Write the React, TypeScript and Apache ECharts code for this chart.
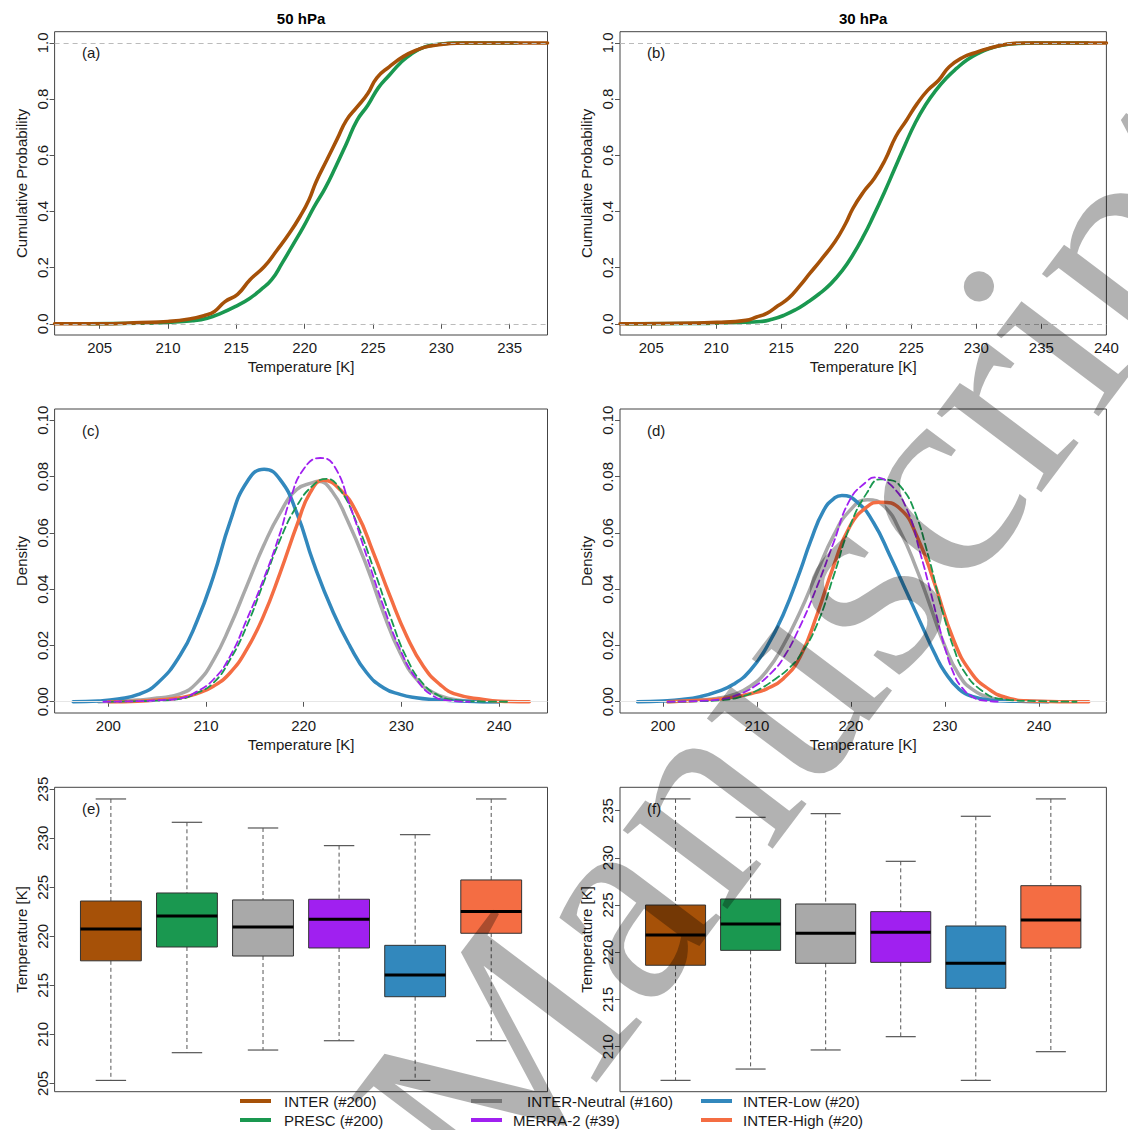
import React, { useEffect, useRef } from "react";
import * as echarts from "echarts";

// ---------------- DATA ----------------
const SERIES_NAMES = ["INTER (#200)", "PRESC (#200)", "INTER-Neutral (#160)", "MERRA-2 (#39)", "INTER-Low (#20)", "INTER-High (#20)"];
const COLORS = ["#A65108", "#1A9850", "#A9A9A9", "#A020F0", "#3288BD", "#F46D43"];
const TITLES = ["50 hPa", "30 hPa"];
const PANEL_LABELS = ["(a)", "(b)", "(c)", "(d)", "(e)", "(f)"];

const CDF_TICKS_A = [205, 210, 215, 220, 225, 230, 235];
const CDF_TICKS_B = [205, 210, 215, 220, 225, 230, 235, 240];
const CDF_Y_TICKS = [0, 0.2, 0.4, 0.6, 0.8, 1.0];
const DENS_X_TICKS = [200, 210, 220, 230, 240];
const DENS_Y_TICKS = [0, 0.02, 0.04, 0.06, 0.08, 0.1];
const BOX_Y_TICKS_E = [205, 210, 215, 220, 225, 230, 235];
const BOX_Y_TICKS_F = [210, 215, 220, 225, 230, 235];

// (a) 50 hPa empirical CDF
const A_INTER_T = [201.7, 205, 208, 210, 211.56, 212.7, 213.4, 214.17, 215.09, 216.0, 217.05, 217.96, 218.88, 219.66, 220.31, 220.84, 221.62, 222.4, 223.06, 223.84, 224.62, 225.28, 226.19, 227.24, 228.28, 229.07, 230.63, 231.68, 237.77];
const A_INTER_P = [0, 0, 0.004, 0.008, 0.017, 0.03, 0.044, 0.079, 0.105, 0.157, 0.204, 0.261, 0.322, 0.382, 0.441, 0.506, 0.583, 0.66, 0.725, 0.772, 0.82, 0.876, 0.915, 0.952, 0.976, 0.988, 0.998, 1.0, 1.0];
const A_PRESC_T = [204.2, 208, 210, 211.8, 212.87, 213.9, 214.96, 216.0, 216.78, 217.57, 218.35, 219.14, 219.92, 220.7, 221.49, 222.27, 223.06, 223.84, 224.62, 225.4, 226.19, 226.97, 227.76, 228.8, 229.85, 230.9, 235.5];
const A_PRESC_P = [0, 0.002, 0.005, 0.011, 0.02, 0.038, 0.062, 0.091, 0.121, 0.156, 0.216, 0.281, 0.346, 0.417, 0.482, 0.559, 0.642, 0.725, 0.778, 0.841, 0.885, 0.927, 0.959, 0.986, 0.995, 1.0, 1.0];

// (b) 30 hPa empirical CDF
const B_INTER_T = [202.6, 206, 210.08, 212.27, 213.1, 213.92, 214.74, 215.57, 216.39, 217.21, 218.04, 219.14, 219.96, 220.51, 221.33, 222.16, 222.98, 223.8, 224.63, 225.45, 226.27, 227.1, 227.92, 229.02, 229.84, 230.94, 232.31, 233.69, 240];
const B_INTER_P = [0, 0.001, 0.005, 0.012, 0.024, 0.038, 0.064, 0.091, 0.133, 0.18, 0.227, 0.293, 0.358, 0.411, 0.47, 0.518, 0.583, 0.666, 0.725, 0.784, 0.832, 0.867, 0.915, 0.95, 0.964, 0.98, 0.995, 1.0, 1.0];
const B_PRESC_T = [203.1, 208, 211.7, 213.4, 214.3, 215.2, 216.1, 217.0, 217.9, 218.8, 219.7, 220.5, 221.3, 222.1, 222.9, 223.7, 224.5, 225.3, 226.1, 226.9, 227.7, 228.5, 229.3, 230.1, 231.0, 232.0, 233.2, 234.5, 238.6];
const B_PRESC_P = [0, 0.001, 0.005, 0.008, 0.016, 0.03, 0.05, 0.076, 0.106, 0.142, 0.19, 0.245, 0.31, 0.385, 0.465, 0.55, 0.635, 0.715, 0.78, 0.832, 0.875, 0.91, 0.94, 0.962, 0.98, 0.992, 0.998, 1.0, 1.0];

// (c) 50 hPa densities
const C_LOW_T = [196.4, 199, 201, 203, 205, 207.35, 209.06, 210.76, 212.47, 214.17, 215.95, 217.59, 219.29, 221.0, 223.04, 224.75, 226.45, 228.16, 229.87, 231.5, 233.28, 236.7, 240];
const C_LOW_D = [0, 0.0003, 0.001, 0.0025, 0.0065, 0.0165, 0.0285, 0.0445, 0.064, 0.078, 0.0826, 0.0789, 0.0671, 0.0494, 0.0316, 0.0197, 0.0103, 0.005, 0.0026, 0.0014, 0.0008, 0.0002, 0];
const C_NEU_T = [199, 201, 203, 205, 207.35, 209.06, 210.76, 212.47, 214.17, 215.88, 217.59, 219.29, 221.0, 221.5, 222.9, 224.41, 226.45, 228.16, 229.87, 231.57, 233.28, 234.98, 237, 240];
const C_NEU_D = [0, 0.0002, 0.0006, 0.0013, 0.0028, 0.0067, 0.0148, 0.0269, 0.0411, 0.0553, 0.0671, 0.0754, 0.0779, 0.0783, 0.0748, 0.065, 0.0482, 0.0316, 0.0174, 0.0079, 0.0032, 0.0011, 0.0003, 0];
const C_HIGH_T = [200, 203, 205, 207.35, 209, 210.76, 212.47, 214.17, 215.88, 217.59, 219.4, 220.65, 222.02, 223.72, 225.43, 227.14, 228.84, 230.55, 232.25, 233.96, 235.66, 238.4, 240.1, 243.1];
const C_HIGH_D = [0, 0.0002, 0.0006, 0.0014, 0.0028, 0.0055, 0.0103, 0.0186, 0.0304, 0.0458, 0.0636, 0.0742, 0.0787, 0.0754, 0.0671, 0.0529, 0.0375, 0.0233, 0.0126, 0.0061, 0.0026, 0.0008, 0.0002, 0];
const C_MERRA_T = [199.5, 203, 205, 207.35, 209, 210.76, 212.47, 214.17, 215.88, 217.59, 218.61, 219.97, 221.68, 223.04, 224.75, 226.45, 228.16, 229.87, 231.57, 233.28, 234.98, 237];
const C_MERRA_D = [0, 0.0002, 0.0005, 0.0012, 0.0035, 0.0079, 0.0162, 0.0292, 0.0434, 0.06, 0.0718, 0.0825, 0.0866, 0.0842, 0.0695, 0.0517, 0.034, 0.0186, 0.0079, 0.002, 0.0004, 0];
const C_PRESC_T = [200, 203, 205, 207.35, 209, 210.76, 212.47, 214.17, 215.88, 217.59, 219.29, 221.0, 222.36, 223.72, 225.43, 227.14, 228.84, 230.55, 232.25, 233.96, 235.66, 238, 241];
const C_PRESC_D = [0, 0.0002, 0.0004, 0.001, 0.003, 0.0067, 0.015, 0.0269, 0.0422, 0.0576, 0.0695, 0.077, 0.0792, 0.0754, 0.0635, 0.0475, 0.0305, 0.0155, 0.0063, 0.002, 0.0006, 0.0001, 0];

// (d) 30 hPa densities
const D_LOW_T = [197.3, 200, 202, 203.95, 205.7, 207.5, 209.3, 211.05, 212.8, 214.6, 215.7, 217.1, 218.3, 219.04, 220.63, 222.41, 224.18, 225.96, 227.73, 228.9, 230, 231.5, 233, 235, 237, 241];
const D_LOW_D = [0, 0.0003, 0.0008, 0.0018, 0.0035, 0.0062, 0.0112, 0.0195, 0.031, 0.0465, 0.057, 0.068, 0.0725, 0.0733, 0.071, 0.0636, 0.0517, 0.0387, 0.0257, 0.0172, 0.0105, 0.0045, 0.0018, 0.0005, 0.0002, 0];
const D_NEU_T = [200.5, 203, 205.7, 207.5, 209.3, 211.05, 212.8, 214.6, 216.4, 218.15, 219.9, 221.75, 223.5, 225.25, 227.0, 228.44, 229.9, 231.5, 233, 235, 237, 240];
const D_NEU_D = [0, 0.0004, 0.0012, 0.0025, 0.0055, 0.011, 0.02, 0.032, 0.046, 0.059, 0.068, 0.0718, 0.0695, 0.0605, 0.047, 0.034, 0.0205, 0.0095, 0.0042, 0.0013, 0.0004, 0];
const D_MERRA_T = [200.5, 204, 206, 208, 210, 211.5, 212.8, 214.6, 216.4, 218.15, 219.9, 221.7, 222.5, 224.2, 225.96, 227.4, 228.44, 229.3, 230.1, 231.0, 231.7, 232.8, 234, 236];
const D_MERRA_D = [0, 0.0003, 0.0008, 0.0025, 0.006, 0.0102, 0.0155, 0.0269, 0.041, 0.0565, 0.0718, 0.0783, 0.0797, 0.0771, 0.0683, 0.0525, 0.0395, 0.028, 0.018, 0.0095, 0.0055, 0.002, 0.0005, 0];
const D_PRESC_T = [200.5, 204, 206, 208, 210, 212, 213.5, 214.6, 216.4, 218.15, 219.9, 221.7, 223.1, 224.2, 225.25, 226.7, 228.3, 229.2, 230.1, 231.0, 232.0, 233.9, 236, 240, 244];
const D_PRESC_D = [0, 0.0002, 0.0005, 0.0015, 0.004, 0.0082, 0.0122, 0.0165, 0.0275, 0.0446, 0.0624, 0.0742, 0.079, 0.0787, 0.0766, 0.0683, 0.051, 0.039, 0.028, 0.0185, 0.011, 0.004, 0.001, 0.0002, 0];
const D_HIGH_T = [200.5, 204, 206, 208, 209.5, 211.05, 212.8, 214.6, 216.4, 218.15, 219.9, 221.7, 223.1, 225.25, 227.0, 228.9, 230.9, 232.8, 234.7, 236.6, 239, 245.3];
const D_HIGH_D = [0, 0.0005, 0.001, 0.0019, 0.003, 0.0046, 0.0082, 0.016, 0.031, 0.0482, 0.0624, 0.0692, 0.0709, 0.0685, 0.059, 0.042, 0.0221, 0.0103, 0.0044, 0.0014, 0.0003, 0];

// (e) 50 hPa box statistics (order = SERIES_NAMES)
const E_LOW = [205.3, 208.13, 208.4, 209.35, 205.3, 209.35];
const E_Q1 = [217.5, 218.91, 217.99, 218.81, 213.84, 220.31];
const E_MED = [220.75, 222.07, 220.95, 221.73, 216.05, 222.52];
const E_Q3 = [223.6, 224.42, 223.71, 223.78, 219.08, 225.75];
const E_HIGH = [234.01, 231.63, 231.05, 229.25, 230.37, 234.01];

// (f) 30 hPa box statistics
const F_LOW = [206.43, 207.63, 209.65, 211.06, 206.43, 209.47];
const F_Q1 = [218.62, 220.2, 218.83, 218.93, 216.18, 220.45];
const F_MED = [221.83, 222.99, 222.0, 222.11, 218.83, 223.42];
const F_Q3 = [225.0, 225.64, 225.11, 224.3, 222.78, 227.05];
const F_HIGH = [236.24, 234.29, 234.68, 229.63, 234.4, 236.24];

// ---------------- LAYOUT / STYLE ----------------
const FONT = '"Liberation Sans", Arial, Helvetica, sans-serif';
const TXT = "#1a1a1a";
const FS = 15;

const GRIDS = [
  { left: 54.6, top: 31.7, width: 492.9, height: 303.3 },
  { left: 620, top: 31.7, width: 486.4, height: 303.3 },
  { left: 54.6, top: 409, width: 492.9, height: 304 },
  { left: 620, top: 409, width: 486.4, height: 304 },
  { left: 54.6, top: 787.3, width: 492.9, height: 304.4 },
  { left: 620, top: 787.3, width: 486.4, height: 304.4 },
];

function pairs(xs: number[], ys: number[]) {
  return xs.map((x, i) => [x, ys[i]]);
}

function xAxisDef(gi: number, min: number, max: number, ticks: number[] | null) {
  if (!ticks) {
    return { type: "value", gridIndex: gi, min, max, show: false };
  }
  return {
    type: "value",
    gridIndex: gi,
    min,
    max,
    name: "Temperature [K]",
    nameLocation: "middle",
    nameGap: 24,
    nameTextStyle: { fontSize: FS, color: TXT, fontFamily: FONT },
    axisLine: { show: false },
    axisTick: { show: true, length: 5, customValues: ticks, lineStyle: { color: "#555", width: 1 } },
    axisLabel: { customValues: ticks, fontSize: FS, color: TXT, margin: 5, fontFamily: FONT },
    splitLine: { show: false },
  };
}

function yAxisDef(gi: number, min: number, max: number, ticks: number[], name: string, digits: number) {
  return {
    type: "value",
    gridIndex: gi,
    min,
    max,
    name,
    nameLocation: "middle",
    nameGap: 26,
    nameRotate: 90,
    nameTextStyle: { fontSize: FS, color: TXT, fontFamily: FONT },
    axisLine: { show: false },
    axisTick: { show: true, length: 5, customValues: ticks, lineStyle: { color: "#555", width: 1 } },
    axisLabel: {
      customValues: ticks,
      rotate: 90,
      fontSize: FS,
      color: TXT,
      margin: 5,
      fontFamily: FONT,
      formatter: (v: number) => v.toFixed(digits),
    },
    splitLine: { show: false },
  };
}

function curve(gi: number, xs: number[], ys: number[], color: string, width: number, dashed: boolean, z: number) {
  return {
    type: "line",
    xAxisIndex: gi,
    yAxisIndex: gi,
    data: pairs(xs, ys),
    symbol: "none",
    showSymbol: false,
    smooth: 0.5,
    clip: true,
    silent: true,
    z,
    lineStyle: { color, width, type: dashed ? [7, 4] : "solid", cap: "round", join: "round" },
  };
}

function refLines(gi: number, values: number[], color: string, dashed: boolean) {
  return {
    type: "line",
    xAxisIndex: gi,
    yAxisIndex: gi,
    data: [],
    silent: true,
    z: 5,
    markLine: {
      symbol: "none",
      silent: true,
      animation: false,
      label: { show: false },
      lineStyle: { color, width: 1, type: dashed ? [5, 4] : "solid" },
      data: values.map((v) => ({ yAxis: v })),
    },
  };
}

function boxSeries(gi: number, low: number[], q1: number[], med: number[], q3: number[], high: number[]) {
  return {
    type: "custom",
    xAxisIndex: gi,
    yAxisIndex: gi,
    silent: true,
    z: 3,
    encode: { x: 0, y: [1, 2, 3, 4, 5] },
    data: low.map((l, i) => [i + 1, l, q1[i], med[i], q3[i], high[i]]),
    renderItem: (params: any, api: any) => {
      const x = api.value(0);
      const lo = api.coord([x, api.value(1)]);
      const a = api.coord([x, api.value(2)]);
      const m = api.coord([x, api.value(3)]);
      const b = api.coord([x, api.value(4)]);
      const hi = api.coord([x, api.value(5)]);
      const w = api.size([0.8, 0])[0];
      const cw = w / 2;
      const cx = lo[0];
      const color = COLORS[params.dataIndex];
      const wh = { stroke: "#555", lineWidth: 1, lineDash: [4, 3] };
      const cap = { stroke: "#555", lineWidth: 1.2 };
      return {
        type: "group",
        children: [
          { type: "line", shape: { x1: cx, y1: hi[1], x2: cx, y2: b[1] }, style: wh },
          { type: "line", shape: { x1: cx, y1: a[1], x2: cx, y2: lo[1] }, style: wh },
          { type: "line", shape: { x1: cx - cw / 2, y1: hi[1], x2: cx + cw / 2, y2: hi[1] }, style: cap },
          { type: "line", shape: { x1: cx - cw / 2, y1: lo[1], x2: cx + cw / 2, y2: lo[1] }, style: cap },
          { type: "rect", shape: { x: cx - w / 2, y: b[1], width: w, height: a[1] - b[1] }, style: { fill: color, stroke: "#333", lineWidth: 1 } },
          { type: "line", shape: { x1: cx - w / 2, y1: m[1], x2: cx + w / 2, y2: m[1] }, style: { stroke: "#000", lineWidth: 3 } },
        ],
      };
    },
  };
}

const LEGEND_POS = [
  { lx: 240, tx: 284, y: 1101 },
  { lx: 240, tx: 284, y: 1120 },
  { lx: 471, tx: 527, y: 1101 },
  { lx: 471, tx: 513, y: 1120 },
  { lx: 701, tx: 743, y: 1101 },
  { lx: 701, tx: 743, y: 1120 },
];
const LABEL_POS = [
  [82, 52],
  [647, 52],
  [82, 430],
  [647, 430],
  [82, 808],
  [647, 808],
];

function buildOption() {
  const grids = GRIDS.map((g) => ({ ...g, show: true, borderColor: "#444", borderWidth: 1, backgroundColor: "transparent", containLabel: false }));

  const xAxes = [
    xAxisDef(0, 201.7, 237.77, CDF_TICKS_A),
    xAxisDef(1, 202.6, 240, CDF_TICKS_B),
    xAxisDef(2, 194.5, 244.96, DENS_X_TICKS),
    xAxisDef(3, 195.43, 247.18, DENS_X_TICKS),
    xAxisDef(4, 0.26, 6.74, null),
    xAxisDef(5, 0.26, 6.74, null),
  ];
  const yAxes = [
    yAxisDef(0, -0.04, 1.04, CDF_Y_TICKS, "Cumulative Probability", 1),
    yAxisDef(1, -0.04, 1.04, CDF_Y_TICKS, "Cumulative Probability", 1),
    yAxisDef(2, -0.004, 0.104, DENS_Y_TICKS, "Density", 2),
    yAxisDef(3, -0.004, 0.104, DENS_Y_TICKS, "Density", 2),
    yAxisDef(4, 204.15, 235.2, BOX_Y_TICKS_E, "Temperature [K]", 0),
    yAxisDef(5, 205.23, 237.47, BOX_Y_TICKS_F, "Temperature [K]", 0),
  ];

  const series: any[] = [
    curve(0, A_PRESC_T, A_PRESC_P, COLORS[1], 3.6, false, 2),
    curve(0, A_INTER_T, A_INTER_P, COLORS[0], 3.6, false, 3),
    refLines(0, [0, 1], "#bbbbbb", true),
    curve(1, B_PRESC_T, B_PRESC_P, COLORS[1], 3.6, false, 2),
    curve(1, B_INTER_T, B_INTER_P, COLORS[0], 3.6, false, 3),
    refLines(1, [0, 1], "#bbbbbb", true),

    refLines(2, [0], "#e6e6e6", false),
    curve(2, C_NEU_T, C_NEU_D, COLORS[2], 3.5, false, 2),
    curve(2, C_LOW_T, C_LOW_D, COLORS[4], 3.5, false, 3),
    curve(2, C_HIGH_T, C_HIGH_D, COLORS[5], 3.5, false, 4),
    curve(2, C_PRESC_T, C_PRESC_D, COLORS[1], 1.8, true, 5),
    curve(2, C_MERRA_T, C_MERRA_D, COLORS[3], 1.8, true, 6),

    refLines(3, [0], "#e6e6e6", false),
    curve(3, D_NEU_T, D_NEU_D, COLORS[2], 3.5, false, 2),
    curve(3, D_LOW_T, D_LOW_D, COLORS[4], 3.5, false, 3),
    curve(3, D_HIGH_T, D_HIGH_D, COLORS[5], 3.5, false, 4),
    curve(3, D_PRESC_T, D_PRESC_D, COLORS[1], 1.8, true, 5),
    curve(3, D_MERRA_T, D_MERRA_D, COLORS[3], 1.8, true, 6),

    boxSeries(4, E_LOW, E_Q1, E_MED, E_Q3, E_HIGH),
    boxSeries(5, F_LOW, F_Q1, F_MED, F_Q3, F_HIGH),
  ];

  const graphics: any[] = [];
  TITLES.forEach((t, i) => {
    graphics.push({
      type: "text",
      x: GRIDS[i].left + GRIDS[i].width / 2,
      y: 18,
      style: { text: t, fontSize: FS, fontWeight: "bold", fontFamily: FONT, fill: "#000", textAlign: "center", textVerticalAlign: "middle", align: "center", verticalAlign: "middle" },
    });
  });
  PANEL_LABELS.forEach((t, i) => {
    graphics.push({
      type: "text",
      x: LABEL_POS[i][0],
      y: LABEL_POS[i][1],
      z: 50,
      style: { text: t, fontSize: FS, fontFamily: FONT, fill: TXT, textAlign: "left", textVerticalAlign: "middle", align: "left", verticalAlign: "middle" },
    });
  });
  SERIES_NAMES.forEach((name, i) => {
    const p = LEGEND_POS[i];
    graphics.push({
      type: "line",
      shape: { x1: p.lx, y1: p.y, x2: p.lx + 31, y2: p.y },
      style: { stroke: COLORS[i], lineWidth: 4 },
    });
    graphics.push({
      type: "text",
      x: p.tx,
      y: p.y,
      style: { text: name, fontSize: FS, fontFamily: FONT, fill: TXT, textAlign: "left", textVerticalAlign: "middle", align: "left", verticalAlign: "middle" },
    });
  });
  // watermark
  graphics.push({
    type: "text",
    x: 418,
    y: 1160,
    rotation: (53 * Math.PI) / 180,
    z: 100,
    silent: true,
    style: {
      text: "Manuscript",
      fontSize: 285,
      fontFamily: '"Liberation Serif", "Times New Roman", serif',
      fill: "rgba(0,0,0,0.3)",
      textAlign: "left",
      textVerticalAlign: "middle",
      align: "left",
      verticalAlign: "middle",
    },
  });

  return {
    animation: false,
    backgroundColor: "#ffffff",
    textStyle: { fontFamily: FONT },
    grid: grids,
    xAxis: xAxes,
    yAxis: yAxes,
    series,
    graphic: { elements: graphics },
  };
}

export default function App() {
  const ref = useRef<HTMLDivElement>(null);
  useEffect(() => {
    if (!ref.current) return;
    const chart = echarts.init(ref.current, null, { renderer: "svg" });
    chart.setOption(buildOption() as any);
    return () => chart.dispose();
  }, []);
  return <div ref={ref} style={{ position: "absolute", left: 0, top: 0, width: 1128, height: 1130, background: "#fff" }} />;
}
